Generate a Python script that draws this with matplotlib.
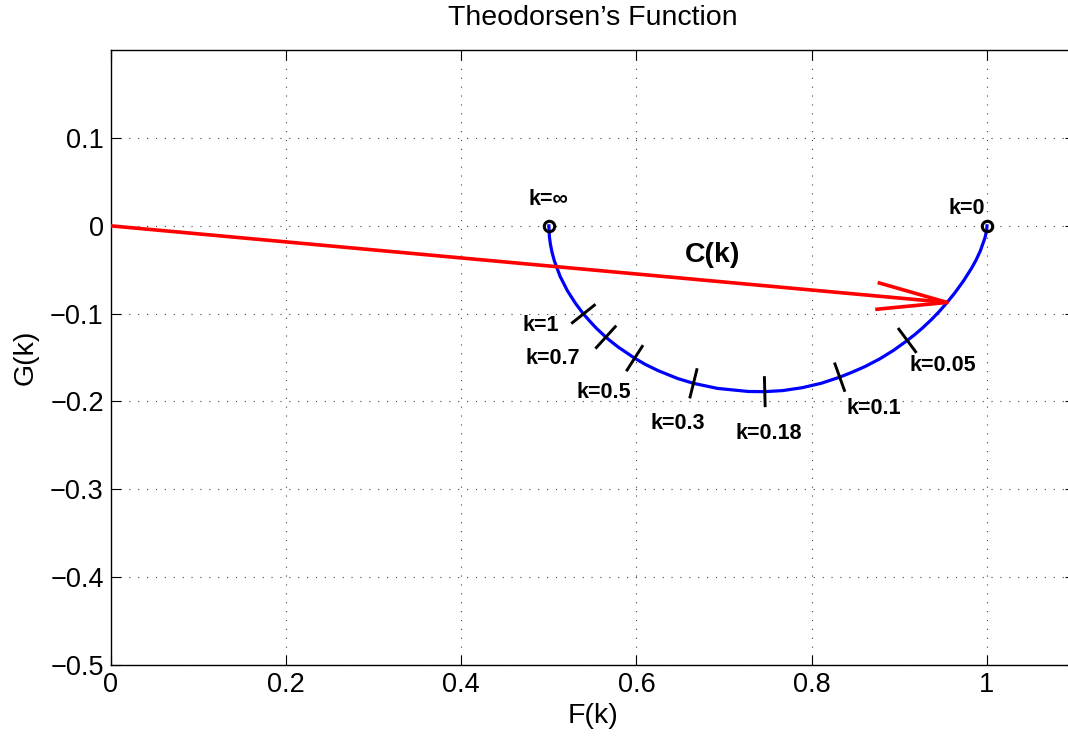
import matplotlib.pyplot as plt
import numpy as np

plt.rcParams['font.family'] = ['Liberation Sans', 'DejaVu Sans']

# Theodorsen's function C(k) = F(k) + i G(k)
k_vals = [np.inf, 10, 6, 4, 3, 2, 1.5, 1.2, 1.0, 0.9, 0.8, 0.7, 0.66, 0.6, 0.5,
          0.45, 0.4, 0.34, 0.3, 0.25, 0.2, 0.18, 0.16, 0.14, 0.12, 0.1, 0.09,
          0.08, 0.07, 0.06, 0.05, 0.045, 0.04, 0.035, 0.03, 0.025, 0.02, 0.015,
          0.01, 0.0075, 0.005, 0.002, 0.001, 0.0005, 0]
F_vals = [0.5000, 0.5006, 0.5017, 0.5037, 0.5063, 0.5129, 0.5210, 0.5300, 0.5394,
          0.5463, 0.5541, 0.5650, 0.5699, 0.5788, 0.5979, 0.6101, 0.6250, 0.6469,
          0.6650, 0.6925, 0.7276, 0.7464, 0.7667, 0.7890, 0.8110, 0.8319, 0.8457,
          0.8604, 0.8772, 0.8933, 0.9090, 0.9180, 0.9267, 0.9364, 0.9457, 0.9545,
          0.9632, 0.9733, 0.9824, 0.9875, 0.9924, 0.9977, 0.9990, 0.9996, 1.0000]
G_vals = [0.0000, -0.0124, -0.0206, -0.0305, -0.0400, -0.0577, -0.0736, -0.0877,
          -0.1003, -0.1081, -0.1165, -0.1267, -0.1308, -0.1378, -0.1507, -0.1578,
          -0.1650, -0.1738, -0.1793, -0.1851, -0.1886, -0.1888, -0.1876, -0.1843,
          -0.1792, -0.1723, -0.1668, -0.1604, -0.1517, -0.1418, -0.1305, -0.1235,
          -0.1160, -0.1069, -0.0973, -0.0872, -0.0764, -0.0625, -0.0482, -0.0390,
          -0.0285, -0.0135, -0.0078, -0.0043, 0.0000]

# marked reduced frequencies
tick_k = [1.0, 0.7, 0.5, 0.3, 0.18, 0.1, 0.05]
tick_labels = ['k=1', 'k=0.7', 'k=0.5', 'k=0.3', 'k=0.18', 'k=0.1', 'k=0.05']
end_k = [np.inf, 0]
end_labels = ['k=\u221e', 'k=0']
arrow_k = 0.025

# where the labels sit (data coords)
tick_label_pos = [(0.491, -0.114), (0.505, -0.151), (0.563, -0.190), (0.647, -0.225),
                  (0.751, -0.236), (0.871, -0.208), (0.950, -0.159)]
end_label_pos = [(0.500, 0.030), (0.977, 0.020)]
ck_label_pos = (0.687, -0.033)

fig = plt.figure(figsize=(10.68, 7.36), dpi=100)
ax = fig.add_axes([0.1037, 0.0965, 0.9025, 0.8353])
ax.set_xlim(0, 1.1)
ax.set_ylim(-0.5, 0.2)
ax.set_xticks([0, 0.2, 0.4, 0.6, 0.8, 1.0])
ax.set_xticklabels(['0', '0.2', '0.4', '0.6', '0.8', '1'])
ax.set_yticks([-0.5, -0.4, -0.3, -0.2, -0.1, 0, 0.1])
ax.set_yticklabels(['\u22120.5', '\u22120.4', '\u22120.3', '\u22120.2', '\u22120.1', '0', '0.1'])
ax.tick_params(direction='in', length=7, width=0.8, labelsize=19.5, pad=5,
               top=True, right=True)
for sp in ax.spines.values():
    sp.set_linewidth(1.0)
ax.spines['right'].set_visible(False)
ax.grid(True, linestyle=(0, (1, 7)), linewidth=0.8, color='0.25')

ax.plot(F_vals, G_vals, color='#0000ff', lw=2.3, zorder=3, solid_joinstyle='round')

to_data = ax.transData.inverted()

# short tick marks normal to the curve
disp = ax.transData.transform(np.column_stack([F_vals, G_vals]))
tang = np.gradient(disp, axis=0)
half = 15.5
for kv in tick_k:
    i = k_vals.index(kv)
    t = tang[i] / np.linalg.norm(tang[i])
    n = np.array([-t[1], t[0]])
    seg = to_data.transform([disp[i] - n * half, disp[i] + n * half])
    ax.plot(seg[:, 0], seg[:, 1], color='k', lw=2.1, solid_capstyle='butt', zorder=4)

for (x, y), lab in zip(tick_label_pos, tick_labels):
    ax.text(x, y, lab, fontsize=15.5, fontweight='bold', ha='center', va='center')

for kv, (x, y), lab in zip(end_k, end_label_pos, end_labels):
    i = k_vals.index(kv)
    ax.plot(F_vals[i], G_vals[i], 'o', mfc='none', mec='k', ms=7.5, mew=2.2, zorder=5)
    ax.text(x, y, lab, fontsize=15.5, fontweight='bold', ha='center', va='center')

# C(k) vector: shaft from the origin plus an open arrow head (pixels)
ia = k_vals.index(arrow_k)
tip = disp[ia]
org = ax.transData.transform((0, 0))
u = (org - tip) / np.linalg.norm(org - tip)
p = np.array([-u[1], u[0]])
head_len, head_half = 71, 13.5
shaft = to_data.transform([org, tip])
head = to_data.transform([tip + u * head_len + p * head_half, tip,
                          tip + u * head_len - p * head_half])
ax.plot(shaft[:, 0], shaft[:, 1], color='#ff0000', lw=2.6, solid_capstyle='butt', zorder=6)
ax.plot(head[:, 0], head[:, 1], color='#ff0000', lw=2.6, solid_capstyle='butt',
        solid_joinstyle='round', zorder=6)
ax.text(ck_label_pos[0], ck_label_pos[1], 'C(k)', fontsize=20.5, fontweight='bold',
        ha='center', va='center')

ax.set_title('Theodorsen\u2019s Function', fontsize=20.5, pad=18.5)
ax.set_xlabel('F(k)', fontsize=20.5, labelpad=4)
ax.set_ylabel('G(k)', fontsize=20.5, labelpad=8)

fig.savefig('out.png', dpi=100)
